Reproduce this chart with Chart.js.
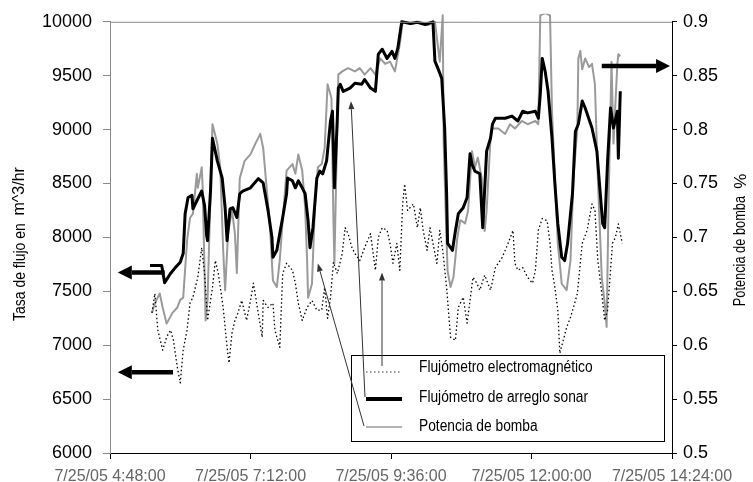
<!DOCTYPE html>
<html lang="es">
  <head>
    <meta charset="UTF-8" />
    <title>Flujómetros y potencia de bomba</title>
    <script src="https://cdn.jsdelivr.net/npm/chart.js"></script>
    <style>
      body {
        margin: 0;
        background: #ffffff;
      }
      canvas {
        display: block;
      }
    </style>
  </head>
  <body>
    <canvas id="flowChart" width="753" height="482"></canvas>

    <script>
      // Times are minutes after midnight on 7/25/05
      const timeTicks = [288, 432, 576, 720, 864];
      const flowTicks = [6000, 6500, 7000, 7500, 8000, 8500, 9000, 9500, 10000];
      const powerTicks = [0.5, 0.55, 0.6, 0.65, 0.7, 0.75, 0.8, 0.85, 0.9];

      // Electromagnetic flow meter, m^3/hr
      const emTimes = [331, 334, 337, 342, 346, 350, 353, 357, 360, 363, 367, 370, 373, 378, 382, 385, 388, 393, 396, 399, 404, 408, 410, 413, 416, 419, 423, 428, 432, 435, 439, 444, 445, 450, 455, 457, 462, 465, 469, 475, 478, 481, 485, 490, 495, 500, 505, 508, 511, 514, 517, 521, 526, 529, 532, 536, 539, 544, 549, 555, 560, 563, 567, 572, 575, 578, 582, 585, 588, 590, 593, 599, 603, 606, 609, 613, 616, 619, 623, 626, 629, 633, 637, 642, 645, 650, 654, 657, 660, 664, 667, 672, 678, 683, 690, 696, 701, 703, 706, 711, 716, 721, 724, 727, 731, 736, 739, 741, 744, 747, 749, 756, 760, 763, 767, 772, 777, 782, 785, 788, 792, 795, 798, 803, 806, 809, 813];
      const emFlow = [7300, 7480, 7140, 6955, 7075, 7140, 7045, 6795, 6650, 6955, 7140, 7390, 7445, 7630, 7905, 7665, 7230, 7535, 7785, 7665, 7350, 6980, 6835, 7110, 7230, 7295, 7415, 7230, 7415, 7575, 7350, 7075, 7415, 7350, 7390, 7140, 6980, 7665, 7760, 7695, 7575, 7390, 7230, 7350, 7415, 7325, 7325, 7535, 7250, 7445, 7770, 7665, 7850, 8090, 8035, 7905, 7850, 7785, 7905, 8035, 7695, 8000, 8090, 8065, 7945, 7760, 7945, 7695, 8310, 8495, 8250, 8310, 8090, 8275, 8065, 7880, 8090, 7945, 7760, 8065, 7880, 7535, 7075, 7045, 7350, 7445, 7205, 7415, 7630, 7575, 7510, 7650, 7510, 7720, 7815, 7945, 8065, 7760, 7695, 7720, 7630, 7575, 7695, 8065, 8175, 8155, 7945, 7695, 7535, 7325, 6925, 7165, 7260, 7350, 7480, 7945, 8065, 8310, 8250, 7785, 7480, 7230, 7325, 7945, 8000, 8125, 7945];

      // Sonar array flow meter, m^3/hr
      const sonarTimes = [329, 341, 344, 350, 355, 360, 363, 365, 368, 372, 373, 377, 382, 385, 387, 388, 391, 393, 398, 403, 406, 408, 411, 414, 418, 421, 424, 432, 440, 445, 450, 454, 455, 459, 462, 465, 469, 470, 475, 478, 481, 485, 488, 491, 493, 496, 500, 503, 506, 510, 514, 516, 518, 521, 522, 524, 527, 534, 539, 546, 549, 555, 560, 563, 567, 572, 577, 580, 583, 587, 596, 603, 611, 619, 621, 624, 628, 631, 633, 634, 639, 642, 645, 650, 654, 657, 659, 662, 667, 670, 674, 678, 680, 683, 693, 700, 706, 711, 716, 724, 727, 729, 731, 734, 737, 741, 744, 747, 751, 754, 757, 762, 765, 768, 772, 775, 782, 787, 790, 793, 795, 798, 801, 804, 808, 809, 811];
      const sonarFlow = [7740, 7740, 7580, 7665, 7720, 7770, 7850, 8220, 8370, 8390, 8265, 8340, 8430, 8290, 8020, 7970, 8430, 8920, 8710, 8550, 8275, 7970, 8265, 8275, 8185, 8405, 8430, 8460, 8545, 8505, 8250, 8000, 7815, 7880, 8035, 8185, 8405, 8550, 8525, 8460, 8525, 8460, 8405, 8155, 7905, 8090, 8550, 8615, 8590, 8710, 9080, 9170, 8460, 9105, 9385, 9420, 9355, 9385, 9430, 9420, 9465, 9385, 9355, 9700, 9745, 9660, 9725, 9660, 9755, 10000, 9985, 9995, 9975, 10000, 9635, 9570, 9475, 9015, 8405, 7945, 7880, 8060, 8220, 8275, 8370, 8775, 8680, 8615, 8590, 8090, 8800, 8920, 9050, 9105, 9105, 9125, 9080, 9170, 9155, 9170, 9105, 9330, 9660, 9540, 9355, 8920, 8495, 8125, 7815, 7785, 7945, 8405, 8985, 9050, 9265, 9200, 9015, 8800, 8460, 8125, 8090, 8710, 9200, 9015, 9170, 8735, 9355];

      // Pump power, fraction (right axis)
      const pumpTimes = [331, 334, 339, 342, 346, 352, 357, 360, 363, 367, 370, 373, 377, 378, 382, 383, 386, 388, 393, 398, 401, 404, 406, 409, 413, 416, 418, 421, 426, 432, 437, 442, 445, 449, 452, 455, 459, 462, 465, 469, 475, 478, 481, 485, 488, 490, 491, 495, 498, 501, 505, 508, 511, 515, 517, 518, 521, 522, 526, 532, 539, 544, 549, 555, 560, 565, 570, 575, 580, 585, 588, 596, 605, 614, 621, 626, 629, 630, 632, 634, 637, 640, 644, 647, 652, 655, 659, 662, 665, 669, 672, 674, 678, 680, 686, 693, 698, 703, 710, 716, 724, 727, 729, 734, 739, 741, 744, 747, 751, 756, 760, 763, 767, 768, 770, 772, 775, 779, 782, 785, 788, 792, 795, 797, 799, 802, 804, 808, 809, 811];
      const pumpPower = [0.63, 0.639, 0.648, 0.635, 0.62, 0.63, 0.635, 0.642, 0.644, 0.697, 0.718, 0.722, 0.759, 0.746, 0.765, 0.746, 0.623, 0.642, 0.805, 0.787, 0.765, 0.688, 0.651, 0.704, 0.725, 0.704, 0.667, 0.755, 0.771, 0.777, 0.787, 0.796, 0.783, 0.741, 0.709, 0.66, 0.654, 0.679, 0.716, 0.762, 0.768, 0.759, 0.777, 0.762, 0.728, 0.679, 0.644, 0.657, 0.728, 0.765, 0.768, 0.783, 0.842, 0.829, 0.716, 0.676, 0.808, 0.851, 0.854, 0.857, 0.854, 0.857, 0.851, 0.857, 0.851, 0.866, 0.861, 0.863, 0.854, 0.879, 0.9, 0.898, 0.9, 0.897, 0.9, 0.863, 0.906, 0.787, 0.725, 0.669, 0.654, 0.663, 0.7, 0.716, 0.713, 0.725, 0.78, 0.765, 0.774, 0.755, 0.706, 0.725, 0.792, 0.801, 0.801, 0.796, 0.805, 0.801, 0.808, 0.805, 0.808, 0.805, 0.906, 0.908, 0.906, 0.817, 0.755, 0.694, 0.657, 0.651, 0.679, 0.755, 0.801, 0.866, 0.873, 0.856, 0.866, 0.858, 0.861, 0.842, 0.755, 0.663, 0.639, 0.617, 0.734, 0.863, 0.787, 0.861, 0.87, 0.868];

      const SANS = '"Liberation Sans", Arial, sans-serif';
      Chart.defaults.font.family = SANS;
      Chart.defaults.color = "#000";

      const zip = (ts, vs) => ts.map((t, i) => ({ x: t, y: vs[i] }));

      function clock(min) {
        const h = Math.floor(min / 60);
        const m = String(min % 60).padStart(2, "0");
        return "7/25/05 " + h + ":" + m + ":00";
      }

      // Heavy arrows pointing each series to its axis: [time from, time to, value, axis]
      const axisArrows = [
        [344, 296, 7675, "y"],
        [352.6, 296, 6750, "y"],
        [792, 862, 0.859, "y1"],
      ];

      // Legend layout and connector arrows to the series: [time, value, axis]
      const legendBox = { x: 351, y: 355, w: 313, h: 86 };
      const rowY = [368, 398, 427];
      const sampleY = [372, 399, 427];
      const connectorFrom = [
        [382, 366],
        [365, 397],
        [364, 426],
      ];
      const connectorTo = [
        [566.8, 7675, "y"],
        [535, 9264, "y"],
        [501, 0.6758, "y1"],
      ];

      function arrow(ctx, x1, y1, x2, y2, width, headLen, headHalf) {
        const a = Math.atan2(y2 - y1, x2 - x1);
        const bx = x2 - headLen * Math.cos(a);
        const by = y2 - headLen * Math.sin(a);
        ctx.lineWidth = width;
        ctx.beginPath();
        ctx.moveTo(x1, y1);
        ctx.lineTo(bx, by);
        ctx.stroke();
        ctx.beginPath();
        ctx.moveTo(x2, y2);
        ctx.lineTo(bx + headHalf * Math.sin(a), by - headHalf * Math.cos(a));
        ctx.lineTo(bx - headHalf * Math.sin(a), by + headHalf * Math.cos(a));
        ctx.closePath();
        ctx.fill();
      }

      // Condensed text: a regular face squeezed horizontally
      function narrowText(ctx, text, x, y, size, squeeze) {
        ctx.save();
        ctx.translate(x, y);
        ctx.scale(squeeze, 1);
        ctx.font = size + "px " + SANS;
        ctx.fillText(text, 0, 0);
        ctx.restore();
      }

      // Text rotated to read bottom-to-top; parts are [text, size, squeeze]
      function verticalText(ctx, parts, cx, cy) {
        ctx.save();
        ctx.translate(cx, cy);
        ctx.rotate(-Math.PI / 2);
        ctx.textBaseline = "middle";
        ctx.fillStyle = "#000";
        let total = 0;
        parts.forEach((p) => {
          ctx.font = p[1] + "px " + SANS;
          p.w = ctx.measureText(p[0]).width * p[2];
          total += p.w;
        });
        let x = -total / 2;
        parts.forEach((p) => {
          narrowText(ctx, p[0], x, 0, p[1], p[2]);
          x += p.w;
        });
        ctx.restore();
      }

      const overlay = {
        id: "overlay",
        afterDatasetsDraw(chart) {
          const { ctx, chartArea: area, scales } = chart;
          const xs = scales.x;
          ctx.save();

          // top frame line
          ctx.strokeStyle = "#8a8a8a";
          ctx.lineWidth = 1;
          ctx.beginPath();
          ctx.moveTo(area.left, area.top + 0.5);
          ctx.lineTo(area.right, area.top + 0.5);
          ctx.stroke();

          ctx.strokeStyle = "#000";
          ctx.fillStyle = "#000";
          axisArrows.forEach(([t1, t2, v, axis]) => {
            const py = scales[axis].getPixelForValue(v);
            arrow(ctx, xs.getPixelForValue(t1), py, xs.getPixelForValue(t2), py, 4.5, 14, 7);
          });

          // legend box
          const lb = legendBox;
          ctx.fillStyle = "#fff";
          ctx.fillRect(lb.x, lb.y, lb.w, lb.h);
          ctx.strokeStyle = "#000";
          ctx.lineWidth = 1;
          ctx.strokeRect(lb.x + 0.5, lb.y + 0.5, lb.w, lb.h);

          chart.data.datasets.forEach((ds, i) => {
            ctx.save();
            ctx.strokeStyle = i === 0 ? "#777" : ds.borderColor;
            ctx.lineWidth = i === 1 ? 4 : i === 2 ? 1.5 : ds.borderWidth;
            ctx.setLineDash(ds.borderDash || []);
            ctx.beginPath();
            ctx.moveTo(lb.x + 15, sampleY[i]);
            ctx.lineTo(lb.x + 51, sampleY[i]);
            ctx.stroke();
            ctx.restore();
            ctx.fillStyle = "#000";
            ctx.textBaseline = "middle";
            narrowText(ctx, ds.label, lb.x + 68, rowY[i], 16, 0.86);
          });

          // connectors from the legend to the series
          ctx.strokeStyle = "#333";
          ctx.fillStyle = "#333";
          connectorTo.forEach(([t, v, axis], i) => {
            const [fx, fy] = connectorFrom[i];
            arrow(ctx, fx, fy, xs.getPixelForValue(t), scales[axis].getPixelForValue(v), 1, 8, 3);
          });

          ctx.restore();

          verticalText(ctx, [["Tasa de flujo en  ", 17, 0.82], ["m^3/hr", 16, 1]], 20, 244);
          verticalText(ctx, [["Potencia de bomba  ", 16, 0.8], ["%", 17, 1]], 741, 240);
        },
      };

      const ctx = document.getElementById("flowChart");

      new Chart(ctx, {
        type: "line",
        data: {
          datasets: [
            {
              label: "Flujómetro electromagnético",
              data: zip(emTimes, emFlow),
              yAxisID: "y",
              borderColor: "#000",
              borderWidth: 1.3,
              borderDash: [1.5, 2.5],
              order: 1,
              clip: 8,
            },
            {
              label: "Flujómetro de arreglo sonar",
              data: zip(sonarTimes, sonarFlow),
              yAxisID: "y",
              borderColor: "#000",
              borderWidth: 3,
              order: 0,
              clip: 8,
            },
            {
              label: "Potencia de bomba",
              data: zip(pumpTimes, pumpPower),
              yAxisID: "y1",
              borderColor: "#9a9a9a",
              borderWidth: 2,
              order: 2,
              clip: 8,
            },
          ],
        },
        options: {
          responsive: false,
          animation: false,
          layout: { padding: { top: 20, left: 0, right: 0, bottom: 0 } },
          elements: {
            point: { radius: 0 },
            line: { tension: 0, borderJoinStyle: "round" },
          },
          plugins: {
            legend: { display: false },
            tooltip: { enabled: false },
          },
          scales: {
            x: {
              type: "linear",
              min: timeTicks[0],
              max: timeTicks[timeTicks.length - 1],
              afterBuildTicks: (s) => {
                s.ticks = timeTicks.map((v) => ({ value: v }));
              },
              afterFit: (s) => {
                s.height = 29;
              },
              ticks: {
                callback: (v) => clock(v),
                color: "#666",
                font: { size: 16 },
                padding: 8,
                maxRotation: 0,
                autoSkip: false,
              },
              grid: { drawOnChartArea: false, tickLength: 6, color: "#000" },
              border: { color: "#000" },
            },
            y: {
              position: "left",
              min: flowTicks[0],
              max: flowTicks[flowTicks.length - 1],
              afterBuildTicks: (s) => {
                s.ticks = flowTicks.map((v) => ({ value: v }));
              },
              afterFit: (s) => {
                s.width = 110;
              },
              ticks: {
                callback: (v) => String(v),
                font: { size: 18 },
                padding: 11,
              },
              grid: { drawOnChartArea: false, tickLength: 7, color: "#8a8a8a" },
              border: { color: "#8a8a8a" },
            },
            y1: {
              position: "right",
              min: powerTicks[0],
              max: powerTicks[powerTicks.length - 1],
              afterBuildTicks: (s) => {
                s.ticks = powerTicks.map((v) => ({ value: v }));
              },
              afterFit: (s) => {
                s.width = 81;
              },
              ticks: {
                callback: (v) => String(+v.toFixed(2)),
                font: { size: 18 },
                padding: 6,
              },
              grid: { drawOnChartArea: false, tickLength: 5, color: "#000" },
              border: { color: "#000" },
            },
          },
        },
        plugins: [overlay],
      });
    </script>
  </body>
</html>
